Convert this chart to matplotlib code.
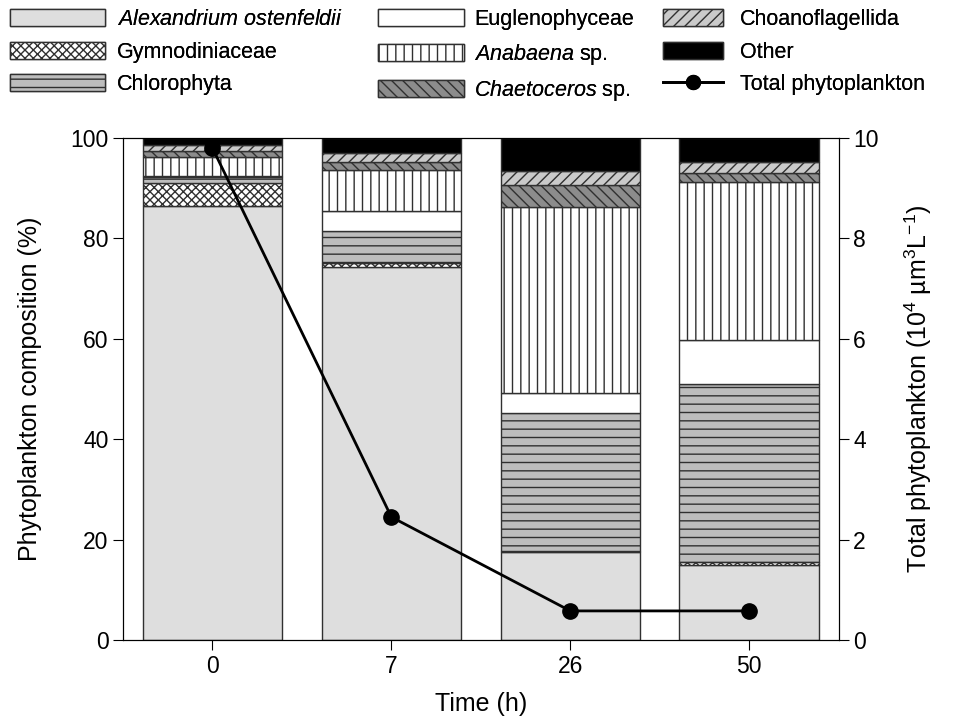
import numpy as np
import matplotlib
matplotlib.use("Agg")
import matplotlib.pyplot as plt
from matplotlib.lines import Line2D

plt.rcParams['font.family'] = ['Liberation Sans', 'DejaVu Sans']
plt.rcParams['mathtext.fontset'] = 'custom'
plt.rcParams['mathtext.rm'] = 'Liberation Sans'
plt.rcParams['mathtext.it'] = 'Liberation Sans:italic'
plt.rcParams['hatch.linewidth'] = 1.0

# sampling times and composition of each group (% of total biovolume)
times = ["0", "7", "26", "50"]
groups = [r"$\it{Alexandrium\ ostenfeldii}$", "Gymnodiniaceae", "Chlorophyta",
          "Euglenophyceae", r"$\it{Anabaena}$ sp.", r"$\it{Chaetoceros}$ sp.",
          "Choanoflagellida", "Other"]
alexandrium = [86.5, 74.3, 17.5, 14.9]
gymnodiniaceae = [4.5, 0.8, 0.2, 0.6]
chlorophyta = [1.2, 6.4, 27.5, 35.5]
euglenophyceae = [0.3, 4.0, 4.0, 8.8]
anabaena = [3.7, 8.1, 37.1, 31.4]
chaetoceros = [1.3, 1.6, 4.3, 1.8]
choanoflagellida = [1.1, 1.8, 2.8, 2.2]
other = [1.4, 3.0, 6.6, 4.8]
total_phyto = [9.8, 2.45, 0.58, 0.58]  # 10^4 um^3 L^-1

fills = ["#dedede", "white", "#bdbdbd", "white", "white", "#8c8c8c", "#cacaca", "black"]
hatches = [None, "xxxx", "--", None, "||", "\\\\\\", "///", None]

fig = plt.figure(figsize=(9.73, 7.25), dpi=100)
ax = fig.add_axes([0.1264, 0.1172, 0.7356, 0.6925])
x = np.arange(len(times))
bottom = np.zeros(len(times))
handles = []
for vals, lab, fc, h in zip([alexandrium, gymnodiniaceae, chlorophyta, euglenophyceae,
                             anabaena, chaetoceros, choanoflagellida, other],
                            groups, fills, hatches):
    b = ax.bar(x, vals, width=0.78, bottom=bottom, color=fc, edgecolor="#303030",
               linewidth=1.0, hatch=h, label=lab)
    handles.append(b)
    bottom += np.array(vals)

ax.set_xlim(-0.5, 3.5)
ax.set_ylim(0, 100)
ax.set_xticks(x)
ax.set_xticklabels(times)
ax.set_yticks(range(0, 101, 20))
ax.set_xlabel("Time (h)", fontsize=18, labelpad=10)
ax.set_ylabel("Phytoplankton composition (%)", fontsize=18, labelpad=20)
ax.tick_params(labelsize=16.5, direction="out", length=7)

ax2 = ax.twinx()
ax2.plot(x, total_phyto, "-o", color="black", lw=2, ms=11, zorder=5)
ax2.set_ylim(0, 10)
ax2.set_yticks(range(0, 11, 2))
ax2.tick_params(labelsize=16.5, direction="out", length=7)
ax2.set_ylabel("Total phytoplankton (10$^4$ µm$^3$L$^{-1}$)", fontsize=18, labelpad=17)

line_handle = Line2D([], [], color="black", lw=2, marker="o", ms=10)

# three legend columns, each with its own handle length
cols = [(handles[0:3], groups[0:3], 0.0082, 4.4, 0.56),
        (handles[3:6], groups[3:6], 0.3864, 4.0, 0.47),
        (handles[6:8] + [line_handle], groups[6:8] + ["Total phytoplankton"], 0.679, 2.8, 0.8)]
for hs, labs, x0, hl, tp in cols:
    leg = fig.legend(hs, labs, loc="upper left", bbox_to_anchor=(x0, 0.991),
                     frameon=False, fontsize=15.5, handlelength=hl, handleheight=0.84,
                     labelspacing=0.55, handletextpad=tp, borderpad=0.1, borderaxespad=0.0)
    fig.add_artist(leg)

fig.savefig("out.png", dpi=100)
